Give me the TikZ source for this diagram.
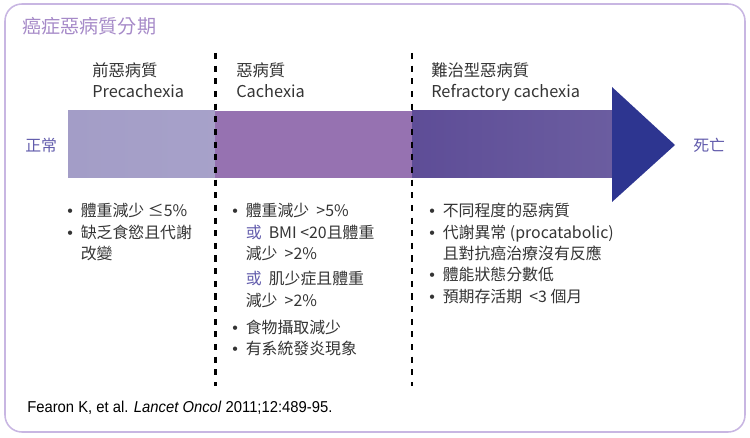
\documentclass[tikz,border=0pt]{standalone}
\usepackage{fontspec}
\setmainfont{Noto Sans CJK TC}
\newfontfamily\citefont[FakeStretch=0.94]{Liberation Sans}
\newfontfamily\dotfont{Liberation Sans}
\usepackage{tikz}
\usetikzlibrary{positioning, calc}
\usepackage{xcolor}
\definecolor{frameline}{RGB}{200,182,226}
\definecolor{titleviolet}{RGB}{166,138,200}
\definecolor{endlabel}{RGB}{98,92,172}
\definecolor{inkgray}{RGB}{52,52,52}
\definecolor{stageA}{RGB}{163,157,199}
\definecolor{stageB}{RGB}{150,114,177}
\definecolor{stageCl}{RGB}{94,77,151}
\definecolor{stageCr}{RGB}{107,93,160}
\definecolor{headnavy}{RGB}{45,53,144}
\newcommand{\itm}{\makebox[9.6pt][l]{\dotfont •}}
\newcommand{\ind}{\hspace*{9.6pt}}
\newcommand{\huo}{\textcolor{endlabel}{或}}

\begin{document}
\begin{tikzpicture}[x=0.025cm, y=-0.025cm, font=\fontsize{11.3}{15.2}\selectfont,
    stagehead/.style={anchor=north west, inner sep=0pt, align=left, text=inkgray},
    stagelist/.style={anchor=north west, inner sep=0pt, align=left, text=inkgray},
    stagesep/.style={line width=1.9pt, dash pattern=on 4.3pt off 4.7pt}]
  \useasboundingbox (0,0) rectangle (750,438);
  % outer frame
  \draw[frameline, line width=1.1pt, rounded corners=12pt] (5,4) rectangle (745,432);
  \node[anchor=west, inner sep=0pt, text=titleviolet, font=\fontsize{13.6}{16}\selectfont]
    (title) at (22,26) {癌症惡病質分期};
  % the bar, three stages
  \shade[left color=stageA, right color=stageA!96!white] (68,111) rectangle (215,178);
  \fill[stageB] (215,111) rectangle (412,178);
  \shade[left color=stageCl, right color=stageCr] (412,111) rectangle (613,178);
  \fill[headnavy] (612,87) -- (675,145) -- (612,202) -- cycle;
  \node[anchor=west, inner sep=0pt, text=endlabel] (normal) at (25,145) {正常};
  \node[anchor=west, inner sep=0pt, text=endlabel] (death) at (693,145) {死亡};
  % separators
  \coordinate (sepAtop) at (215.5,53);
  \coordinate (sepAbot) at (215.5,386);
  \coordinate (sepBtop) at (412,53);
  \coordinate (sepBbot) at (412,386);
  \draw[stagesep] (sepAtop) -- (sepAbot);
  \draw[stagesep] (sepBtop) -- (sepBbot);
  % stage titles
  \node[stagehead, font=\fontsize{11.6}{15.2}\selectfont] (preH) at (92,62) {前惡病質\\Precachexia};
  \node[stagehead, font=\fontsize{11.6}{15.2}\selectfont] (cacH) at (236,62) {惡病質\\Cachexia};
  \node[stagehead, font=\fontsize{11.6}{15.2}\selectfont] (refH) at (431,62) {難治型惡病質\\Refractory cachexia};
  % criteria
  \node[stagelist] (preL) at (67,203)
    {\itm 體重減少 ≤5\%\\
     \itm 缺乏食慾且代謝\\
     \ind 改變};
  \node[stagelist] (cacL) at (232,203)
    {\itm 體重減少\ \ >5\%\\
     \ind \huo\ \ BMI <20且體重\\
     \ind 減少\ \ >2\%\\[3pt]
     \ind \huo\ \ 肌少症且體重\\
     \ind 減少\ \ >2\%\\[4pt]
     \itm 食物攝取減少\\
     \itm 有系統發炎現象};
  \node[stagelist] (refL) at (429,203)
    {\itm 不同程度的惡病質\\
     \itm 代謝異常 (procatabolic)\\
     \ind 且對抗癌治療沒有反應\\
     \itm 體能狀態分數低\\
     \itm 預期存活期\ \ <3 個月};
  % source
  \node[anchor=west, inner sep=0pt, text=black, font=\citefont\fontsize{11.2}{13}\selectfont]
    (cite) at (27,408) {Fearon K, et al. \textit{Lancet Oncol} 2011;12:489-95.};
\end{tikzpicture}
\end{document}
